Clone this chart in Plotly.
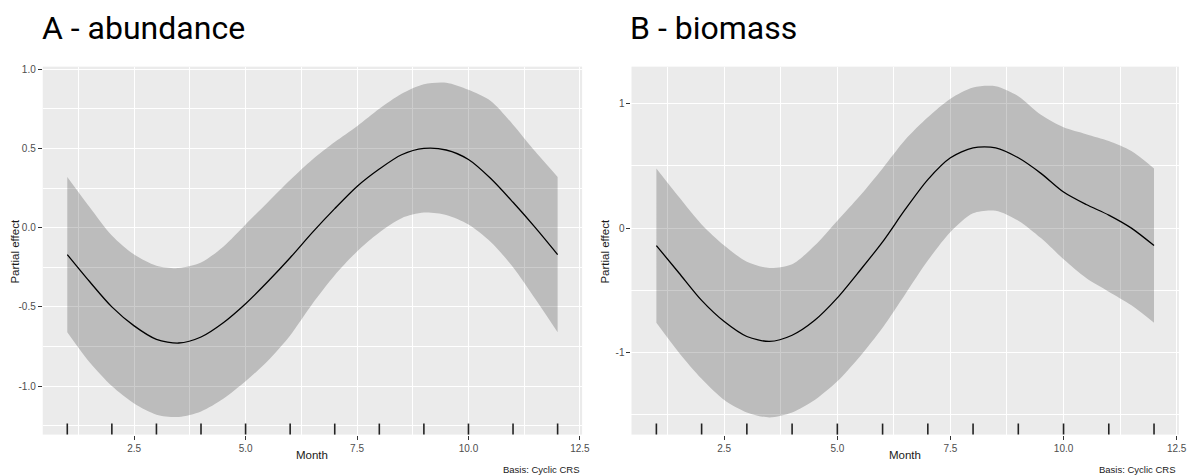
import plotly.graph_objects as go

# ---------------- data ----------------
months = [1, 1.5, 2, 2.5, 3, 3.5, 4, 4.5, 5, 5.5, 6, 6.5, 7, 7.5, 8, 8.5, 9, 9.5, 10, 10.5, 11, 11.5, 12]

a_fit = [-0.17, -0.34, -0.50, -0.62, -0.705, -0.728, -0.69, -0.60, -0.48, -0.34, -0.19, -0.03, 0.12, 0.26,
         0.37, 0.46, 0.50, 0.49, 0.43, 0.31, 0.16, 0.00, -0.17]
a_upper = [0.32, 0.13, -0.05, -0.17, -0.24, -0.255, -0.22, -0.12, 0.02, 0.16, 0.30, 0.43, 0.54, 0.64,
           0.75, 0.845, 0.905, 0.915, 0.87, 0.80, 0.65, 0.48, 0.32]
a_lower = [-0.66, -0.85, -1.00, -1.11, -1.18, -1.195, -1.16, -1.08, -0.97, -0.84, -0.68, -0.48, -0.30, -0.15,
           -0.03, 0.06, 0.095, 0.08, 0.02, -0.09, -0.25, -0.45, -0.66]

b_fit = [-0.14, -0.36, -0.58, -0.75, -0.87, -0.91, -0.86, -0.74, -0.56, -0.34, -0.11, 0.15, 0.39, 0.565,
         0.645, 0.645, 0.565, 0.44, 0.29, 0.19, 0.105, 0.00, -0.14]
b_upper = [0.48, 0.25, 0.03, -0.14, -0.27, -0.32, -0.29, -0.14, 0.06, 0.26, 0.48, 0.71, 0.89, 1.04,
           1.13, 1.14, 1.06, 0.91, 0.81, 0.755, 0.70, 0.62, 0.48]
b_lower = [-0.76, -1.00, -1.21, -1.38, -1.48, -1.52, -1.48, -1.38, -1.23, -1.03, -0.80, -0.53, -0.26, -0.03,
           0.12, 0.14, 0.06, -0.08, -0.25, -0.40, -0.51, -0.62, -0.76]

rug_months = [1, 2, 3, 4, 5, 6, 7, 8, 9, 10, 11, 12]

x_tickvals = [2.5, 5.0, 7.5, 10.0, 12.5]
x_ticktext = ["2.5", "5.0", "7.5", "10.0", "12.5"]
a_y_tickvals = [-1.0, -0.5, 0.0, 0.5, 1.0]
a_y_ticktext = ["-1.0", "-0.5", "0.0", "0.5", "1.0"]
b_y_tickvals = [-1, 0, 1]
b_y_ticktext = ["-1", "0", "1"]

titles = ["A - abundance", "B - biomass"]
x_title = "Month"
y_title = "Partial effect"
caption = "Basis: Cyclic CRS"

# ---------------- layout geometry ----------------
# the page body has an 8px margin, so the figure is drawn shifted by (8, 8)
W, H = 1195, 475
OFF = 8
def px(x):
    return (x - OFF) / W
def py(y):
    return 1 - (y - OFF) / H

top, bottom = 64, 434.3
ydom = [py(bottom), py(top)]
xdomA = [px(43), px(586)]
xdomB = [px(635.7), px(1186.8)]

PANEL = "#EBEBEB"
RIBBON = "rgba(0,0,0,0.2)"
TICKFONT = dict(family="Liberation Sans, Arial, sans-serif", size=10, color="#4D4D4D")
TITLEFONT = dict(family="Liberation Sans, Arial, sans-serif", size=11.5, color="#1A1A1A")

fig = go.Figure()

def add_panel(xa, ya, fit, upper, lower):
    fig.add_trace(go.Scatter(x=months, y=lower, mode="lines", line=dict(width=0, shape="spline", smoothing=0.8),
                             xaxis=xa, yaxis=ya, showlegend=False, hoverinfo="skip"))
    fig.add_trace(go.Scatter(x=months, y=upper, mode="lines", line=dict(width=0, shape="spline", smoothing=0.8),
                             fill="tonexty", fillcolor=RIBBON,
                             xaxis=xa, yaxis=ya, showlegend=False, hoverinfo="skip"))
    fig.add_trace(go.Scatter(x=months, y=fit, mode="lines",
                             line=dict(color="black", width=1.3, shape="spline", smoothing=0.8),
                             xaxis=xa, yaxis=ya, showlegend=False))

add_panel("x", "y", a_fit, a_upper, a_lower)
add_panel("x2", "y2", b_fit, b_upper, b_lower)

# rug
for xr, yr in (("x", "y domain"), ("x2", "y2 domain")):
    for m in rug_months:
        fig.add_shape(type="line", xref=xr, yref=yr, x0=m, x1=m, y0=0, y1=0.03,
                      line=dict(color="#222222", width=1.6))

common_x = dict(range=[0.45, 12.55], tickvals=x_tickvals, ticktext=x_ticktext, ticks="outside", ticklen=4,
                tickcolor="#333333", tickwidth=1, tickfont=TICKFONT, showgrid=True, gridcolor="white",
                gridwidth=1.2, zeroline=False, showline=False,
                minor=dict(tick0=0, dtick=1.25, showgrid=True, gridcolor="white", gridwidth=0.6, ticks=""))

fig.update_layout(
    width=W, height=H, margin=dict(l=0, r=0, t=0, b=0),
    paper_bgcolor="white", plot_bgcolor=PANEL,
    xaxis=dict(domain=xdomA, anchor="y", **common_x),
    xaxis2=dict(domain=xdomB, anchor="y2", **common_x),
    yaxis=dict(domain=ydom, anchor="x", range=[-1.306, 1.016], tickvals=a_y_tickvals, ticktext=a_y_ticktext,
               ticks="outside", ticklen=4, tickcolor="#333333", tickwidth=1, tickfont=TICKFONT,
               showgrid=True, gridcolor="white", gridwidth=1.2, zeroline=False, showline=False,
               minor=dict(tick0=0, dtick=0.25, showgrid=True, gridcolor="white", gridwidth=0.6, ticks="")),
    yaxis2=dict(domain=ydom, anchor="x2", range=[-1.658, 1.297], tickvals=b_y_tickvals, ticktext=b_y_ticktext,
                ticks="outside", ticklen=4, tickcolor="#333333", tickwidth=1, tickfont=TICKFONT,
                showgrid=True, gridcolor="white", gridwidth=1.2, zeroline=False, showline=False,
                minor=dict(tick0=0, dtick=0.5, showgrid=True, gridcolor="white", gridwidth=0.6, ticks="")),
)

ann = []
# big titles
for txt, xl in zip(titles, (40, 632)):
    ann.append(dict(text=txt, x=px(xl), y=py(25), xref="paper", yref="paper", xanchor="left", yanchor="middle",
                    showarrow=False, font=dict(family="Roboto, sans-serif", size=32, color="black")))
# y axis titles
for xc in (15, 609):
    ann.append(dict(text=y_title, x=px(xc), y=py((top + bottom) / 2), xref="paper", yref="paper",
                    xanchor="center", yanchor="middle", textangle=-90, showarrow=False, font=TITLEFONT))
# x axis titles
for xc in ((43 + 586) / 2, (635.7 + 1186.8) / 2):
    ann.append(dict(text=x_title, x=px(xc), y=py(455), xref="paper", yref="paper",
                    xanchor="center", yanchor="middle", showarrow=False, font=TITLEFONT))
# captions
for xr in (586, 1186):
    ann.append(dict(text=caption, x=px(xr), y=py(469), xref="paper", yref="paper",
                    xanchor="right", yanchor="middle", showarrow=False,
                    font=dict(family="Liberation Sans, Arial, sans-serif", size=9.5, color="#1A1A1A")))
fig.update_layout(annotations=ann)

fig.write_html("out.html")
